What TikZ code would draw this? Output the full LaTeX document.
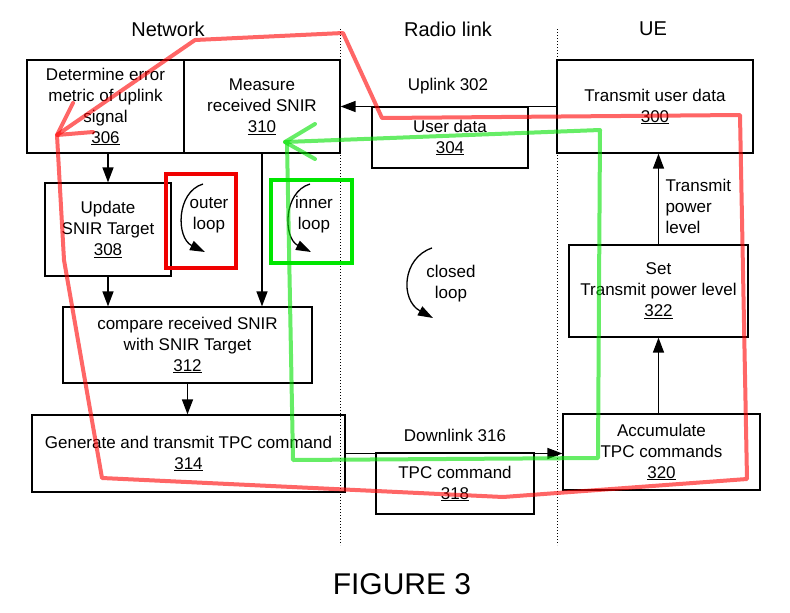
\documentclass[tikz,border=0pt]{standalone}
\usepackage{fontspec}
\setmainfont{Liberation Sans}
\usetikzlibrary{arrows.meta}
\definecolor{cRed}{RGB}{255,0,0}
\definecolor{cGreen}{RGB}{0,225,0}
\definecolor{cBoxR}{RGB}{240,0,0}
\definecolor{cBoxG}{RGB}{0,230,0}

\begin{document}
\begin{tikzpicture}[x=1pt,y=-1pt,
  blk/.style={draw,line width=1.2pt,align=center,inner sep=0pt,font=\fontsize{17}{21}\selectfont},
  txt/.style={align=center,font=\fontsize{17}{21}\selectfont},
  arr/.style={line width=1.3pt,-{Triangle[length=15pt,width=11pt]}},
  curv/.style={line width=1.3pt,-{Triangle[length=15pt,width=10pt]}},
  loopline/.style={line width=4pt,draw opacity=0.6,line join=round,line cap=round}]
  \useasboundingbox (0,0) rectangle (790,613);
  % column titles
  \node[font=\fontsize{20}{24}\selectfont] (tNet) at (168,29) {Network};
  \node[font=\fontsize{20}{24}\selectfont] (tRad) at (448,29) {Radio link};
  \node[font=\fontsize{20}{24}\selectfont] (tUE) at (653,29) {UE};
  % separators
  \draw[dotted,line width=1pt] (340,29) -- (340,545);
  \draw[dotted,line width=1pt] (557,29) -- (557,545);
  % network side
  \node[blk,minimum width=157pt,minimum height=93pt] (b306) at (105.5,106.5) {Determine error\\metric of uplink\\signal\\\underline{306}};
  \node[blk,minimum width=156pt,minimum height=93pt] (b310) at (262,106.5) {Measure\\received SNIR\\\underline{310}};
  \node[blk,minimum width=126pt,minimum height=93pt] (b308) at (108,229.5) {Update\\SNIR Target\\\underline{308}};
  \node[blk,minimum width=249pt,minimum height=76pt] (b312) at (187.5,345) {compare received SNIR\\with SNIR Target\\\underline{312}};
  \node[blk,minimum width=313pt,minimum height=77pt] (b314) at (188.5,453.5) {Generate and transmit TPC command\\\underline{314}};
  % radio link
  \node[blk,minimum width=156pt,minimum height=61pt] (b304) at (450,137.5) {User data\\\underline{304}};
  \node[blk,minimum width=158pt,minimum height=61pt] (b318) at (455,483.5) {TPC command\\\underline{318}};
  \node[txt] (lUp) at (448,86) {Uplink 302};
  \node[txt] (lDown) at (455,435) {Downlink 316};
  % UE side
  \node[blk,minimum width=196pt,minimum height=93pt] (b300) at (655,106.5) {Transmit user data\\\underline{300}};
  \node[blk,minimum width=179pt,minimum height=92pt] (b322) at (658.5,291) {Set\\Transmit power level\\\underline{322}};
  \node[blk,minimum width=197pt,minimum height=76pt] (b320) at (661.5,452) {Accumulate\\TPC commands\\\underline{320}};
  \node[txt,align=left,anchor=west] (lPow) at (662,206) {Transmit\\power\\level};
  % arrows
  \draw[arr] (b306.south -| b308.north) -- (b308.north);
  \draw[arr] (b308.south) -- (b308.south |- b312.north);
  \draw[arr] (b310.south) -- (b310.south |- b312.north);
  \draw[arr] (b312.south) -- (b312.south |- b314.north);
  \draw[arr] (b300.west) -- (b310.east);
  \draw[arr] (b314.east) -- (b314.east -| b320.west);
  \draw[arr] (b320.north -| b322.south) -- (b322.south);
  \draw[arr] (b322.north) -- (b322.north |- b300.south);
  % loop labels
  \node[txt] (lOuter) at (209,215) {outer\\loop};
  \node[txt] (lInner) at (314,215) {inner\\loop};
  \node[txt] (lClosed) at (451,284) {closed\\loop};
  \draw[curv] (203,184) .. controls (176,192) and (176,238) .. (205,252);
  \draw[curv] (310,184) .. controls (283,192) and (283,238) .. (311,252);
  \draw[curv] (432,248) .. controls (402,258) and (400,300) .. (433,318);
  \draw[cBoxR,line width=3.5pt] (166,174) rectangle (236,268);
  \draw[cBoxG,line width=3.5pt] (271,180) rectangle (352,263);
  % outer loop path
  \draw[loopline,cRed] (57,135) -- (64,260) -- (102,478) -- (503,497) -- (747,479)
    -- (740,115) -- (382,118) -- (343,33) -- (195,40) -- cycle;
  \draw[loopline,cRed] (73,103) -- (57,135) -- (93,132);
  % inner loop path
  \draw[loopline,cGreen] (287,142) -- (293,460) -- (598,458) -- (600,130) -- (285,142);
  \draw[loopline,cGreen] (315,124) -- (285,142) -- (315,159);
  % caption
  \node[font=\fontsize{30}{36}\selectfont] (cap) at (402,584) {FIGURE 3};
\end{tikzpicture}
\end{document}
